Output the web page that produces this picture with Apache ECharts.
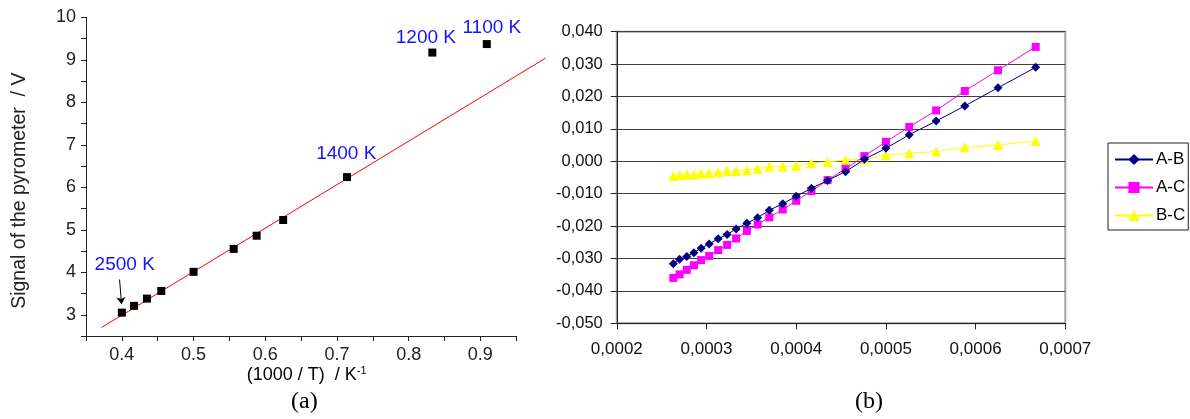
<!DOCTYPE html>
<html><head><meta charset="utf-8">
<script src="https://cdn.jsdelivr.net/npm/echarts@6/dist/echarts.min.js"></script>
<style>html,body{margin:0;padding:0;background:#fff}#c{width:1190px;height:419px}</style>
</head><body><div id="c"></div>
<script>
// ---- (a) pyrometer calibration ----
const invT = [0.400, 0.417, 0.435, 0.455, 0.500, 0.556, 0.588, 0.625, 0.714, 0.833, 0.909];
const signalV = [3.05, 3.21, 3.38, 3.56, 4.01, 4.55, 4.86, 5.23, 6.24, 9.17, 9.37];
const fitX = [0.3717, 0.991];
const fitY = [2.70, 9.04];
const tempLabels = ['2500 K', '1400 K', '1200 K', '1100 K'];
const tempLabelX = [0.404, 0.713, 0.824, 0.916];
const tempLabelY = [4.18, 6.80, 9.52, 9.75];
const arrowX = [0.3968, 0.3996];
const arrowY = [3.83, 3.25];

// ---- (b) differences ----
const xB = [0.000263, 0.000270, 0.000278, 0.000286, 0.000294, 0.000303, 0.000313, 0.000323,
            0.000333, 0.000345, 0.000357, 0.000370, 0.000385, 0.000400, 0.000417, 0.000435,
            0.000455, 0.000476, 0.000500, 0.000526, 0.000556, 0.000588, 0.000625, 0.000667];
const seriesNames = ['A-B', 'A-C', 'B-C'];
const AB = [-0.0316, -0.0302, -0.0294, -0.0282, -0.0268, -0.0255, -0.0239, -0.0226,
            -0.0209, -0.0191, -0.0174, -0.0151, -0.0131, -0.0108, -0.0083, -0.0059,
            -0.0032, 0.0006, 0.0040, 0.0082, 0.0124, 0.0171, 0.0227, 0.0290];
const AC = [-0.0360, -0.0349, -0.0335, -0.0321, -0.0305, -0.0292, -0.0274, -0.0258,
            -0.0238, -0.0215, -0.0195, -0.0173, -0.0149, -0.0122, -0.0092, -0.0058,
            -0.0023, 0.0016, 0.0060, 0.0106, 0.0157, 0.0217, 0.0281, 0.0353];
const BC = [-0.0045, -0.0043, -0.0041, -0.0041, -0.0038, -0.0037, -0.0034, -0.0030,
            -0.0030, -0.0027, -0.0023, -0.0016, -0.0016, -0.0014, -0.0005, -0.0002,
            0.0004, 0.0006, 0.0019, 0.0025, 0.0030, 0.0043, 0.0050, 0.0063];

const SANS = '"Liberation Sans", Arial, sans-serif';
const SERIF = '"Liberation Serif", "Times New Roman", serif';
const zip = (a, b) => a.map((v, i) => [v, b[i]]);

// left panel scale: 0.1 per 71.7 px in x
const L_LEFT = 86, L_TOP = 17.3, L_PX_X = 717, L_H = 318.7;

const chart = echarts.init(document.getElementById('c'), null, {renderer: 'canvas'});
chart.setOption({
  animation: false,
  backgroundColor: '#fff',
  grid: [
    {left: L_LEFT, top: L_TOP, width: 0.60 * L_PX_X, height: L_H},
    {left: 616.8, top: 31.7, width: 448.5, height: 291.6, show: true, borderColor: '#a0a0a0', borderWidth: 2, backgroundColor: 'transparent'},
    {left: L_LEFT, top: L_TOP, width: 0.65 * L_PX_X, height: L_H}
  ],
  xAxis: [
    {gridIndex: 0, type: 'value', min: 0.35, max: 0.95, interval: 0.05,
     axisLine: {show: true, onZero: false, lineStyle: {color: '#222', width: 1}},
     axisTick: {show: true, length: 5, lineStyle: {color: '#222'}},
     splitLine: {show: false},
     axisLabel: {margin: 10, fontFamily: SANS, fontSize: 18, color: '#222',
       formatter: v => (Math.round(v * 20) % 2 === 0 ? v.toFixed(1) : '')}},
    {gridIndex: 1, type: 'value', min: 0.0002, max: 0.0007, interval: 0.0001,
     axisLine: {show: true, onZero: false, lineStyle: {color: '#222', width: 1}},
     axisTick: {show: true, length: 6, lineStyle: {color: '#222'}},
     splitLine: {show: false},
     axisLabel: {margin: 18, fontFamily: SANS, fontSize: 17, color: '#111',
       formatter: v => v.toFixed(4).replace('.', ',')}},
    {gridIndex: 2, type: 'value', min: 0.35, max: 1.0, show: false, splitLine: {show: false}}
  ],
  yAxis: [
    {gridIndex: 0, type: 'value', min: 2.5, max: 10, interval: 0.5,
     axisLine: {show: true, onZero: false, lineStyle: {color: '#222', width: 1}},
     axisTick: {show: true, length: 5, lineStyle: {color: '#222'}},
     splitLine: {show: false},
     axisLabel: {margin: 10, fontFamily: SANS, fontSize: 18, color: '#222',
       formatter: v => (Math.abs(v - Math.round(v)) < 1e-6 ? String(Math.round(v)) : '')}},
    {gridIndex: 1, type: 'value', min: -0.05, max: 0.04, interval: 0.01,
     axisLine: {show: true, onZero: false, lineStyle: {color: '#222', width: 1}},
     axisTick: {show: true, length: 6, lineStyle: {color: '#222'}},
     splitLine: {show: true, lineStyle: {color: '#404040', width: 1}},
     axisLabel: {margin: 14, fontFamily: SANS, fontSize: 16.5, color: '#111',
       formatter: v => v.toFixed(3).replace('.', ',')}},
    {gridIndex: 2, type: 'value', min: 2.5, max: 10, show: false, splitLine: {show: false}}
  ],
  legend: {
    show: true, orient: 'vertical', left: 1108, top: 143,
    padding: [8, 3, 6, 6], itemGap: 11, itemWidth: 38, itemHeight: 14,
    borderColor: '#222', borderWidth: 1,
    data: seriesNames,
    textStyle: {fontFamily: SANS, fontSize: 17, color: '#000', padding: [0, 0, 0, -2]}
  },
  series: [
    {type: 'line', name: 'fit', xAxisIndex: 2, yAxisIndex: 2, data: zip(fitX, fitY),
     showSymbol: false, symbol: 'none', lineStyle: {color: '#ff0000', width: 1}, z: 2,
     markLine: {silent: true, symbol: ['none', 'arrow'], symbolSize: 7,
       label: {show: false}, lineStyle: {color: '#000', width: 1, type: 'solid'},
       data: [[{coord: [arrowX[0], arrowY[0]]}, {coord: [arrowX[1], arrowY[1]]}]]}},
    {type: 'scatter', name: 'signal', xAxisIndex: 0, yAxisIndex: 0, data: zip(invT, signalV),
     symbol: 'rect', symbolSize: 8, itemStyle: {color: '#000', opacity: 1}, z: 3},
    {type: 'scatter', name: 'labels', xAxisIndex: 0, yAxisIndex: 0,
     data: tempLabels.map((t, i) => ({name: t, value: [tempLabelX[i], tempLabelY[i]]})),
     symbol: 'rect', symbolSize: 1, itemStyle: {color: 'rgba(0,0,0,0)'}, silent: true, z: 5,
     label: {show: true, position: 'inside', formatter: p => p.name, opacity: 1,
       textBorderWidth: 0, textShadowBlur: 0,
       fontFamily: SANS, fontSize: 19, color: '#1414ff'}},
    {type: 'line', name: 'A-B', xAxisIndex: 1, yAxisIndex: 1, data: zip(xB, AB),
     symbol: 'diamond', symbolSize: 9, showAllSymbol: true,
     itemStyle: {color: '#000080'}, lineStyle: {color: '#000080', width: 1}, z: 4},
    {type: 'line', name: 'A-C', xAxisIndex: 1, yAxisIndex: 1, data: zip(xB, AC),
     symbol: 'rect', symbolSize: 8, showAllSymbol: true,
     itemStyle: {color: '#ff00ff'}, lineStyle: {color: '#ff00ff', width: 1}, z: 3},
    {type: 'line', name: 'B-C', xAxisIndex: 1, yAxisIndex: 1, data: zip(xB, BC),
     symbol: 'triangle', symbolSize: 10, showAllSymbol: true,
     itemStyle: {color: '#ffff00'}, lineStyle: {color: '#ffff00', width: 1}, z: 2}
  ],
  graphic: [
    {type: 'text', x: 19.4, y: 190.7, rotation: Math.PI / 2,
     style: {text: 'Signal of the pyrometer  / V', font: '19.5px ' + SANS, fill: '#222',
       align: 'center', verticalAlign: 'middle'}},
    {type: 'text', x: 306.7, y: 375,
     style: {text: '{m|(1000 / T)  / K}{s|-1}', align: 'center', verticalAlign: 'middle',
       rich: {m: {fontFamily: SANS, fontSize: 18, color: '#222'},
              s: {fontFamily: SANS, fontSize: 11, color: '#222', padding: [0, 0, 9, 0]}}}},
    {type: 'text', x: 304.4, y: 401.7,
     style: {text: '(a)', font: '24px ' + SERIF, fill: '#000', align: 'center', verticalAlign: 'middle'}},
    {type: 'text', x: 869, y: 401.7,
     style: {text: '(b)', font: '24px ' + SERIF, fill: '#000', align: 'center', verticalAlign: 'middle'}}
  ]
});
</script>
</body></html>
